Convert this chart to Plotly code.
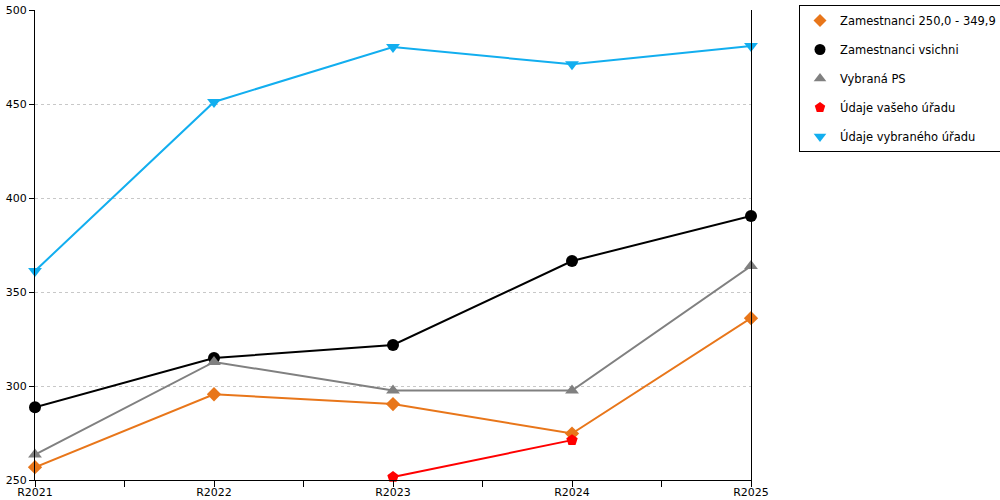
import plotly.graph_objects as go

years = ['R2021', 'R2022', 'R2023', 'R2024', 'R2025']
zam_250 = [256.8, 295.6, 290.4, 274.7, 336.1]
zam_all = [288.7, 314.9, 321.8, 366.5, 390.4]
vybrana_ps = [263.5, 312.8, 297.6, 297.6, 363.8]
vas_urad = [None, None, 251.6, 271.2, None]
vybrany_urad = [361.2, 451.1, 480.3, 471.1, 480.9]

xs = list(range(len(years)))

series = [
    ('Zamestnanci 250,0 - 349,9', zam_250, '#E8761A', 'diamond', 11),
    ('Zamestnanci vsichni', zam_all, '#000000', 'circle', 12),
    ('Vybraná PS', vybrana_ps, '#808080', 'triangle-up', 12),
    ('Údaje vašeho úřadu', vas_urad, '#FF0000', 'pentagon', 12),
    ('Údaje vybraného úřadu', vybrany_urad, '#12AEEF', 'triangle-down', 12),
]

fig = go.Figure()
for i, (name, vals, col, sym, sz) in enumerate(series):
    fig.add_trace(go.Scatter(
        x=xs, y=vals, name=name, mode='lines+markers',
        line=dict(color=col, width=2),
        marker=dict(color=col, symbol=sym, size=sz),
        showlegend=False, cliponaxis=False))
    # legend entry shows only the marker
    fig.add_trace(go.Scatter(
        x=[None], y=[None], name=name, mode='markers',
        marker=dict(color=col, symbol=sym, size=sz - 1),
        legendgroup='g%d' % i, showlegend=True))

fig.update_layout(
    width=1000, height=500,
    margin=dict(l=35, r=249, t=10, b=20),
    plot_bgcolor='white', paper_bgcolor='white',
    font=dict(family='DejaVu Sans', size=11, color='black'),
    showlegend=True,
    legend=dict(xref='container', yref='container', x=0.799, y=0.99,
                xanchor='left', yanchor='top',
                bordercolor='black', borderwidth=1, bgcolor='white',
                traceorder='grouped', tracegroupgap=10,
                font=dict(size=11.5)),
    xaxis=dict(range=[0, 4], tickvals=xs, ticktext=years, automargin=False,
               showgrid=False, zeroline=False,
               showline=True, linecolor='black', linewidth=1,
               ticks='outside', ticklen=6, tickcolor='black',
               ticklabelstandoff=-4,
               minor=dict(dtick=0.5, tick0=0, ticks='outside', ticklen=6,
                          tickcolor='black', showgrid=False)),
    yaxis=dict(range=[250, 500], dtick=50, automargin=False,
               showgrid=True, gridcolor='#c8c8c8', griddash='dot', gridwidth=1,
               zeroline=False, showline=True, mirror=True,
               linecolor='black', linewidth=1,
               ticks='outside', ticklen=5, tickcolor='black'),
)

fig.write_html('out.html', config={'displayModeBar': False},
               post_script="document.body.style.margin='0';")
